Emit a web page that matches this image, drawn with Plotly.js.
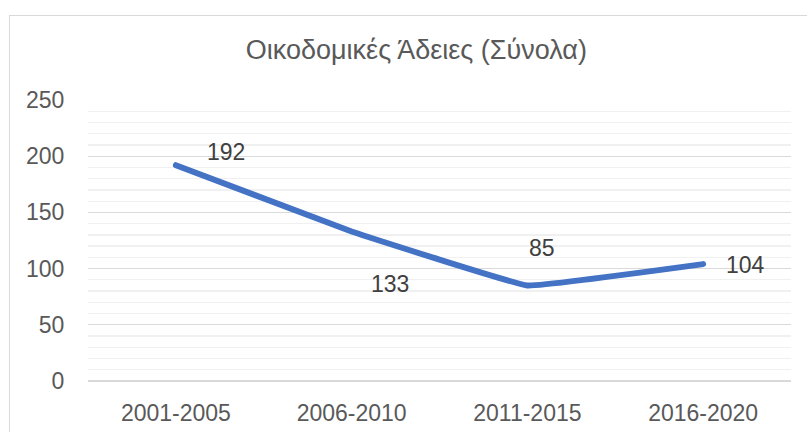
<!DOCTYPE html>
<html>
<head>
<meta charset="utf-8">
<script src="https://cdn.plot.ly/plotly-3.0.1.min.js"></script>
<style>
html,body{margin:0;padding:0;overflow:hidden;background:#fff;}
#chart{position:absolute;left:0;top:0;width:807px;height:432px;}
#frame{position:absolute;left:9px;top:15px;width:900px;height:500px;border:1.3px solid #d9d9d9;pointer-events:none;}
#chart .scatterlayer path.js-line{stroke-linecap:round !important;stroke-linejoin:round !important;}
</style>
</head>
<body>
<div id="chart"></div>
<div id="frame"></div>
<script>
const categories = ["2001-2005", "2006-2010", "2011-2015", "2016-2020"];
const values = [192, 133, 85, 104];
const labelText = ["192", "133", "85", "104"];
const chartTitle = "Οικοδομικές Άδειες (Σύνολα)";

// label offsets in pixels (style only)
const labelDX = [29, 17, 0, 21];
const labelDY = [13, -52, 37, -1];

const font = "Liberation Sans, Arial, sans-serif";

const trace = {
  x: categories,
  y: values,
  type: "scatter",
  mode: "lines",
  line: {color: "#4472C4", width: 6, shape: "spline", smoothing: 0.2},
  hoverinfo: "x+y"
};

const annotations = categories.map((c, i) => ({
  x: c, y: values[i], xref: "x", yref: "y",
  text: labelText[i], showarrow: false,
  xanchor: "left", yanchor: "middle",
  xshift: labelDX[i], yshift: labelDY[i],
  font: {family: font, size: 23, color: "#404040"}
}));

const layout = {
  width: 807, height: 432,
  margin: {l: 88, r: 16, t: 100, b: 51},
  paper_bgcolor: "#ffffff", plot_bgcolor: "#ffffff",
  showlegend: false,
  title: {text: chartTitle, x: 0.516, xanchor: "center", y: 0.885, yanchor: "middle",
          font: {family: font, size: 27, color: "#595959"}},
  xaxis: {
    type: "category", range: [-0.5, 3.5],
    showgrid: false, zeroline: false, showline: false,
    ticks: "outside", ticklen: 11, tickcolor: "rgba(0,0,0,0)",
    tickfont: {family: font, size: 23, color: "#595959"}
  },
  yaxis: {
    range: [0, 250], dtick: 50, tick0: 0,
    showgrid: true, gridcolor: "#d9d9d9", gridwidth: 1.3,
    zeroline: true, zerolinecolor: "#d9d9d9", zerolinewidth: 1.3,
    showline: false,
    minor: {dtick: 10, showgrid: true, gridcolor: "#f0f0f0", gridwidth: 1.3},
    ticks: "outside", ticklen: 18, tickcolor: "rgba(0,0,0,0)",
    tickfont: {family: font, size: 23, color: "#595959"}
  },
  annotations: annotations
};

Plotly.newPlot("chart", [trace], layout, {displayModeBar: false, staticPlot: true});
</script>
</body>
</html>
